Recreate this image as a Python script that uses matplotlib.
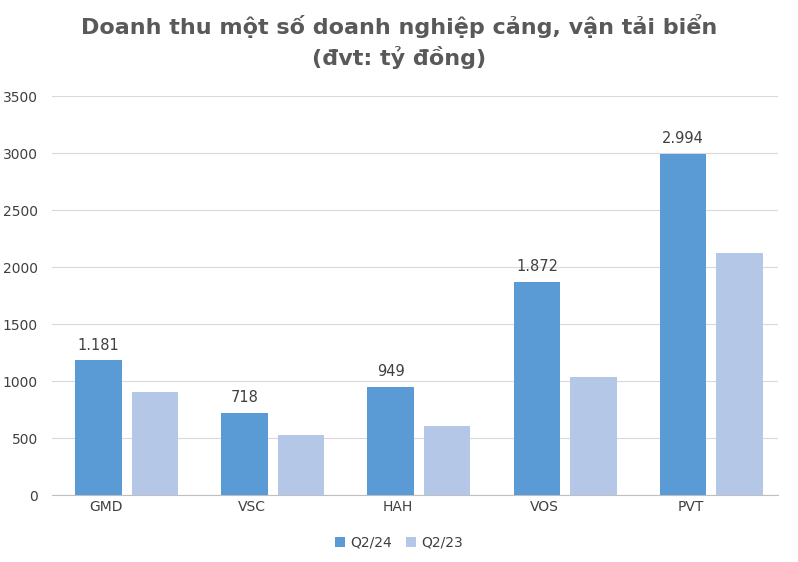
import matplotlib.pyplot as plt
import numpy as np

categories = ["GMD", "VSC", "HAH", "VOS", "PVT"]
q2_24 = [1181, 718, 949, 1872, 2994]
q2_23 = [905, 530, 610, 1040, 2120]
labels_24 = ["1.181", "718", "949", "1.872", "2.994"]

fig = plt.figure(figsize=(7.98, 5.62), dpi=100)
ax = fig.add_axes([0.065, 0.119, 0.91, 0.71])
x = np.arange(len(categories))
w = 0.32
b1 = ax.bar(x - 0.05, q2_24, w, color="#5B9BD5", label="Q2/24", zorder=3)
b2 = ax.bar(x + 0.335, q2_23, w, color="#B4C7E7", label="Q2/23", zorder=3)
for rect, t in zip(b1, labels_24):
    ax.text(rect.get_x() + rect.get_width() / 2, rect.get_height() + 70, t,
            ha="center", va="bottom", fontsize=10.5, color="#404040")
ax.set_ylim(0, 3500)
ax.set_xlim(-0.37, 4.6)
ax.set_yticks(range(0, 3501, 500))
ax.set_xticks(x)
ax.set_xticklabels(categories)
ax.tick_params(axis="both", length=0, labelsize=10, colors="#404040")
ax.tick_params(axis="y", pad=10)
ax.grid(axis="y", color="#D9D9D9", lw=0.8, zorder=0)
for s in ["top", "right", "left"]:
    ax.spines[s].set_visible(False)
ax.spines["bottom"].set_color("#BFBFBF")
fig.text(0.5, 0.975, "Doanh thu một số doanh nghiệp cảng, vận tải biển\n(đvt: tỷ đồng)",
         ha="center", va="top", fontsize=16, fontweight="bold", color="#595959", linespacing=1.4)
fig.legend(loc="lower center", bbox_to_anchor=(0.5, 0.0), ncol=2, frameon=False,
           fontsize=10, handlelength=0.7, handleheight=0.7, columnspacing=1.0, handletextpad=0.4,
           labelcolor="#404040")
fig.savefig("out.png", dpi=100)
